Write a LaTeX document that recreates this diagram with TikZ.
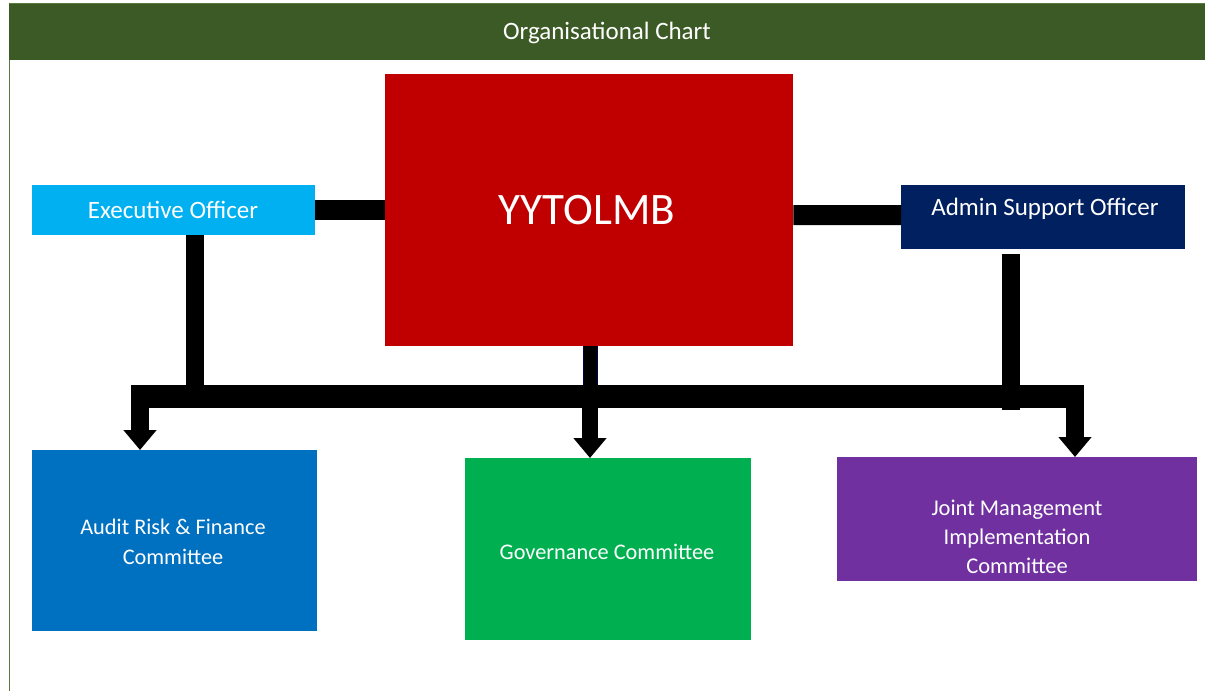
\documentclass[tikz,border=0pt]{standalone}
\usepackage{fontspec}
\setmainfont{Carlito}
\usetikzlibrary{arrows.meta}
\definecolor{hdr}{HTML}{3C5A25}
\definecolor{cexec}{HTML}{00B0F0}
\definecolor{cyy}{HTML}{C00000}
\definecolor{cadmin}{HTML}{002060}
\definecolor{caudit}{HTML}{0070C0}
\definecolor{cgov}{HTML}{00B050}
\definecolor{cjm}{HTML}{7030A0}
\definecolor{frame}{HTML}{5A7A40}
\tikzset{
  box/.style={rectangle, anchor=north west, inner sep=0pt, text=white, align=center},
  lbl/.style={text=white, inner sep=0pt, align=center},
  bar/.style={draw=black, line width=20pt},
  arr/.style={draw=black, line width=18pt, -{Triangle[width=32pt,length=20pt]}},
}
\begin{document}
\begin{tikzpicture}[x=1pt,y=-1pt]
\useasboundingbox (0,0) rectangle (1205,691);
\fill[white] (0,0) rectangle (1205,691);
% frame and header
\draw[frame, line width=1.5pt] (9.5,691) -- (9.5,4) -- (1205,4);
\node[box, fill=hdr, minimum width=1196pt, minimum height=56pt] (hdr) at (9,4) {};
\node[lbl, font=\fontsize{25}{30}\selectfont] (hdrt) at (607,33) {Organisational Chart};
% boxes
\node[box, fill=cexec, minimum width=283pt, minimum height=50pt] (exec) at (32,185) {};
\node[lbl, font=\fontsize{25}{30}\selectfont] (exect) at (173,210) {Executive Officer};
\node[box, fill=cyy, minimum width=408pt, minimum height=272pt] (yy) at (385,74) {};
\node[lbl, font=\fontsize{45}{52}\selectfont] (yyt) at (587,210) {YYTOLMB};
\node[box, fill=cadmin, minimum width=284pt, minimum height=64pt] (admin) at (901,185) {};
\node[lbl, font=\fontsize{25}{30}\selectfont] (admint) at (1045,209) {Admin Support Officer};
\node[box, fill=caudit, minimum width=285pt, minimum height=181pt] (audit) at (32,450) {};
\node[lbl, font=\fontsize{22.3}{30}\selectfont] (auditt) at (173,542) {Audit Risk \& Finance\\Committee};
\node[box, fill=cgov, minimum width=286pt, minimum height=182pt] (gov) at (465,458) {};
\node[lbl, font=\fontsize{22.3}{27}\selectfont] (govt) at (607,552) {Governance Committee};
\node[box, fill=cjm, minimum width=360pt, minimum height=124pt] (jm) at (837,457) {};
\node[lbl, font=\fontsize{22.5}{29}\selectfont] (jmt) at (1017,537) {Joint Management\\Implementation\\Committee};
% helper coordinates
\coordinate (busL) at (131,396);
\coordinate (busR) at (1083,396);
\coordinate (ev) at (195,408);
\coordinate (av) at (1011,410);
\coordinate (la) at (140,385);
\coordinate (ra) at (1075,385);
\coordinate (ca) at (590,385);
% connectors
\draw[bar] (exec.east) -- (exec.east -| yy.west);
\draw[bar] (admin.west) ++(0,-2) -- (yy.east |- {(0,215)});
\draw[line width=18pt] (exec.south -| ev) -- (ev);
\draw[line width=18pt] ([yshift=-5pt]admin.south -| av) -- (av);
\draw[line width=23pt] (busL) -- (busR);
\draw[arr] (la) -- (la |- audit.north);
\draw[arr] (ra) -- (ra |- jm.north);
\draw[draw=black!70!blue, line width=15pt] (yy.south -| ca) -- (ca);
\draw[black, line width=13pt] (yy.south -| ca) -- (ca);
\draw[arr, line width=16pt] (ca) -- (ca |- gov.north);
\end{tikzpicture}
\end{document}
